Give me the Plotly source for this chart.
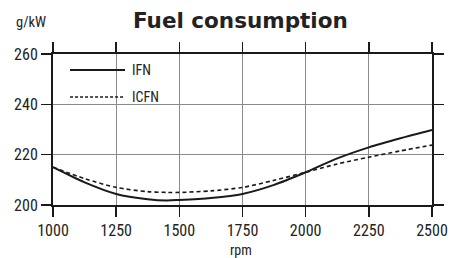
import plotly.graph_objects as go

rpm = [1000, 1125, 1250, 1375, 1450, 1500, 1625, 1750, 1875, 2000, 2125, 2250, 2375, 2500]
ifn = [215.0, 209.0, 204.4, 202.3, 201.8, 202.0, 202.8, 204.4, 208.0, 213.0, 218.5, 222.9, 226.5, 229.8]
icfn = [215.0, 210.5, 207.0, 205.3, 205.0, 205.0, 205.6, 207.0, 209.8, 213.0, 216.3, 219.0, 221.5, 223.8]
x_ticks = [1000, 1250, 1500, 1750, 2000, 2250, 2500]
y_ticks = [200, 220, 240, 260]

FONT = "Roboto Condensed, Liberation Sans, Arial, sans-serif"
INK = "#1a1a1a"

fig = go.Figure()
fig.add_trace(go.Scatter(x=rpm, y=ifn, mode="lines", name="IFN",
                         line=dict(color=INK, width=2, shape="spline", smoothing=0.8)))
fig.add_trace(go.Scatter(x=rpm, y=icfn, mode="lines", name="ICFN",
                         line=dict(color=INK, width=1.6, dash="4px,3px", shape="spline", smoothing=0.8)))

axis_common = dict(showgrid=True, gridcolor="#8a8a8a", gridwidth=1, showline=True,
                   linecolor=INK, linewidth=2, mirror="ticks", ticks="outside",
                   ticklen=10, tickwidth=1.5, tickcolor=INK, zeroline=False, automargin=False,
                   tickfont=dict(family=FONT, size=16, color="#222"))
fig.update_xaxes(range=[1000, 2500], tickvals=x_ticks, **axis_common)
fig.update_yaxes(range=[200, 260], tickvals=y_ticks, **axis_common)

# manual legend with white background
fig.add_shape(type="rect", xref="paper", yref="paper", x0=0.004, x1=0.317, y0=0.563, y1=0.994,
              fillcolor="white", line=dict(width=0), layer="between")
fig.add_shape(type="line", xref="paper", yref="paper", x0=0.045, x1=0.190, y0=0.894, y1=0.894,
              line=dict(color=INK, width=2))
fig.add_shape(type="line", xref="paper", yref="paper", x0=0.045, x1=0.187, y0=0.715, y1=0.715,
              line=dict(color=INK, width=1.6, dash="3px,2px"))
fig.add_annotation(text="IFN", xref="paper", yref="paper", x=0.202, y=0.894, xanchor="left",
                   yanchor="middle", showarrow=False, font=dict(family=FONT, size=14, color="#222"))
fig.add_annotation(text="ICFN", xref="paper", yref="paper", x=0.202, y=0.715, xanchor="left",
                   yanchor="middle", showarrow=False, font=dict(family=FONT, size=14, color="#222"))

fig.add_annotation(text="rpm", xref="paper", yref="paper", x=0.497, y=-0.30, xanchor="center",
                   yanchor="middle", showarrow=False, font=dict(family=FONT, size=14, color="#222"))
fig.add_annotation(text="g/kW", xref="paper", yref="paper", x=-0.057, y=1.21, xanchor="center",
                   yanchor="middle", showarrow=False, font=dict(family=FONT, size=14.5, color="#222"))

fig.update_layout(
    width=451, height=258,
    margin=dict(l=53, r=19, t=54, b=53),
    paper_bgcolor="white", plot_bgcolor="white",
    showlegend=False,
    title=dict(text="<b>Fuel consumption</b>", x=0.533, xanchor="center", y=0.92, yanchor="middle",
               font=dict(family="DejaVu Sans", size=21.5, color="#222")),
)

fig.write_html("out.html", config={"displayModeBar": False, "staticPlot": True})

# remove default page margin so the figure sits at the window's top-left corner
with open("out.html", "r", encoding="utf-8") as fh:
    html = fh.read()
html = html.replace("<head>", "<head><style>html,body{margin:0;padding:0;overflow:hidden;}</style>", 1)
with open("out.html", "w", encoding="utf-8") as fh:
    fh.write(html)
